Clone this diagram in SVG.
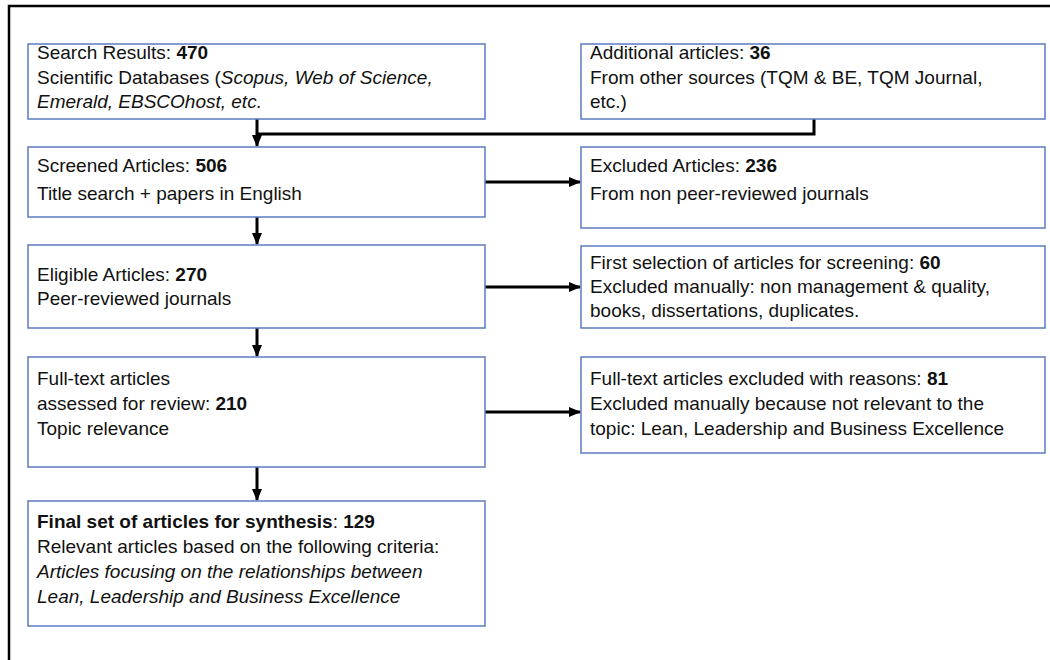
<svg xmlns="http://www.w3.org/2000/svg" width="1050" height="660" viewBox="0 0 1050 660">
<style>
.box{fill:#fff;stroke:#5b7bbf;stroke-width:1.5}
.t{font-family:"Liberation Sans",Arial,sans-serif;font-size:19px;fill:#111}
.b{font-weight:bold}
.i{font-style:italic}
.c{fill:none;stroke:#000;stroke-width:3}
</style>
<defs>
<marker id="ah" markerUnits="userSpaceOnUse" markerWidth="12" markerHeight="12" viewBox="0 0 12 12" refX="11" refY="6" orient="auto">
<path d="M0,1 L12,6 L0,11 Z" fill="#000"/>
</marker>
</defs>
<rect width="1050" height="660" fill="#fff"/>
<path d="M9,665 V6 H1055" fill="none" stroke="#000" stroke-width="2.5"/>
<g id="connectors">
<path class="c" d="M257,119 V146" marker-end="url(#ah)"/>
<path class="c" d="M814,119 V134 H257"/>
<path class="c" d="M485,182 H580" marker-end="url(#ah)"/>
<path class="c" d="M257,217 V244" marker-end="url(#ah)"/>
<path class="c" d="M485,287 H580" marker-end="url(#ah)"/>
<path class="c" d="M257,328 V356" marker-end="url(#ah)"/>
<path class="c" d="M485,412 H580" marker-end="url(#ah)"/>
<path class="c" d="M257,467 V500" marker-end="url(#ah)"/>
</g>
<g id="search">
<rect class="box" x="28" y="44" width="457" height="75"/>
<text class="t" x="37" y="59">Search Results: <tspan class="b">470</tspan></text>
<text class="t" x="37" y="84">Scientific Databases (<tspan class="i">Scopus, Web of Science,</tspan></text>
<text class="t i" x="37" y="108">Emerald, EBSCOhost, etc.</text>
</g>
<g id="additional">
<rect class="box" x="581" y="44" width="464" height="75"/>
<text class="t" x="590" y="59">Additional articles: <tspan class="b">36</tspan></text>
<text class="t" x="590" y="84">From other sources (TQM &amp; BE, TQM Journal,</text>
<text class="t" x="590" y="108">etc.)</text>
</g>
<g id="screened">
<rect class="box" x="28" y="147" width="457" height="70"/>
<text class="t" x="37" y="172">Screened Articles: <tspan class="b">506</tspan></text>
<text class="t" x="37" y="200">Title search + papers in English</text>
</g>
<g id="excluded236">
<rect class="box" x="581" y="147" width="464" height="81"/>
<text class="t" x="590" y="172">Excluded Articles: <tspan class="b">236</tspan></text>
<text class="t" x="590" y="200">From non peer-reviewed journals</text>
</g>
<g id="eligible">
<rect class="box" x="28" y="245" width="457" height="83"/>
<text class="t" x="37" y="281">Eligible Articles: <tspan class="b">270</tspan></text>
<text class="t" x="37" y="305">Peer-reviewed journals</text>
</g>
<g id="firstselection">
<rect class="box" x="581" y="246" width="464" height="82"/>
<text class="t" x="590" y="269">First selection of articles for screening: <tspan class="b">60</tspan></text>
<text class="t" x="590" y="293">Excluded manually: non management &amp; quality,</text>
<text class="t" x="590" y="317">books, dissertations, duplicates.</text>
</g>
<g id="fulltext">
<rect class="box" x="28" y="357" width="457" height="110"/>
<text class="t" x="37" y="385">Full-text articles</text>
<text class="t" x="37" y="410">assessed for review: <tspan class="b">210</tspan></text>
<text class="t" x="37" y="435">Topic relevance</text>
</g>
<g id="excluded81">
<rect class="box" x="581" y="357" width="464" height="96"/>
<text class="t" x="590" y="385">Full-text articles excluded with reasons: <tspan class="b">81</tspan></text>
<text class="t" x="590" y="410">Excluded manually because not relevant to the</text>
<text class="t" x="590" y="435">topic: Lean, Leadership and Business Excellence</text>
</g>
<g id="final">
<rect class="box" x="28" y="501" width="457" height="125"/>
<text class="t" x="37" y="528"><tspan class="b">Final set of articles for synthesis</tspan>: <tspan class="b">129</tspan></text>
<text class="t" x="37" y="553">Relevant articles based on the following criteria:</text>
<text class="t i" x="37" y="578">Articles focusing on the relationships between</text>
<text class="t i" x="37" y="603">Lean, Leadership and Business Excellence</text>
</g>
</svg>
